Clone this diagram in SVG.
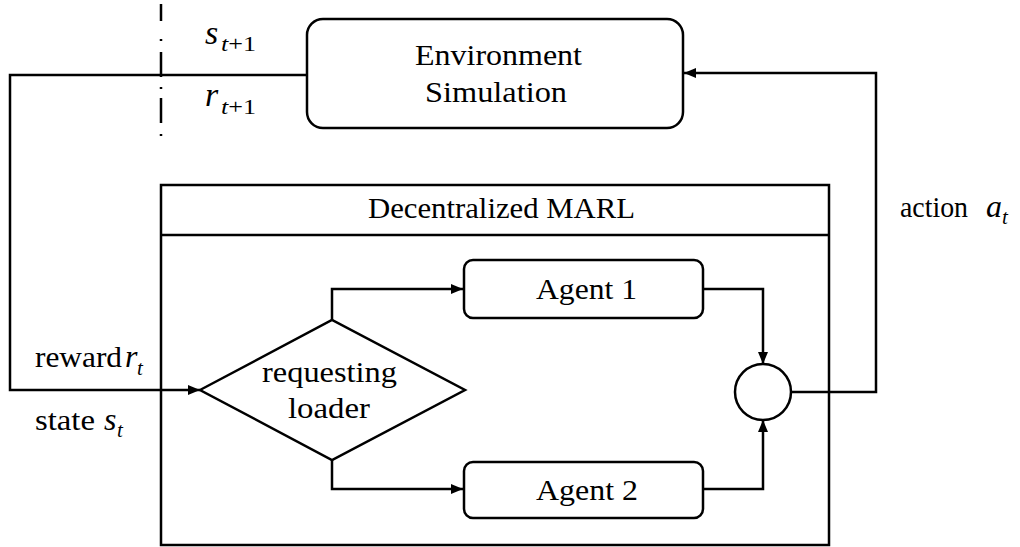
<svg xmlns="http://www.w3.org/2000/svg" width="1020" height="547" viewBox="0 0 1020 547">
<style>
.ln{fill:none;stroke:#000;stroke-width:2.5}
.bx{fill:#fff;stroke:#000;stroke-width:2.5}
.t{font-family:"Liberation Serif","DejaVu Serif",serif;font-size:30px;fill:#000}
.m{font-family:"Liberation Serif","DejaVu Serif",serif;font-style:italic;font-size:32px;fill:#000}
.s{font-family:"Liberation Serif","DejaVu Serif",serif;font-size:21px;fill:#000}
.i{font-style:italic}
</style>
<defs>
<marker id="ah" markerUnits="userSpaceOnUse" markerWidth="12" markerHeight="10" refX="12" refY="5" orient="auto">
<path d="M0,0 L12,5 L0,10 z" fill="#000"/>
</marker>
</defs>
<rect width="1020" height="547" fill="#fff"/>
<g id="separator">
<path class="ln" d="M161,4 V21 M161,39 V41 M161,52 V77 M161,87 V89 M161,98 V123 M161,134 V136"/>
</g>
<g id="env">
<rect class="bx" x="307" y="19" width="376" height="109" rx="16"/>
<text class="t" x="415" y="65" textLength="167" lengthAdjust="spacingAndGlyphs">Environment</text>
<text class="t" x="425" y="102" textLength="142" lengthAdjust="spacingAndGlyphs">Simulation</text>
</g>
<g id="marl">
<rect class="bx" x="161" y="185" width="668" height="360"/>
<line class="ln" x1="161" y1="235" x2="829" y2="235"/>
<text class="t" x="368" y="218" textLength="267" lengthAdjust="spacingAndGlyphs">Decentralized MARL</text>
</g>
<g id="loader">
<path class="bx" d="M200,390 L332,320 L465,390 L332,460 Z"/>
<text class="t" x="262" y="382" textLength="135" lengthAdjust="spacingAndGlyphs">requesting</text>
<text class="t" x="288" y="418" textLength="82" lengthAdjust="spacingAndGlyphs">loader</text>
</g>
<g id="agent1">
<rect class="bx" x="464" y="260" width="239" height="58" rx="9"/>
<text class="t" x="536" y="299" textLength="101" lengthAdjust="spacingAndGlyphs">Agent 1</text>
</g>
<g id="agent2">
<rect class="bx" x="464" y="462" width="239" height="56" rx="9"/>
<text class="t" x="536" y="500" textLength="102" lengthAdjust="spacingAndGlyphs">Agent 2</text>
</g>
<g id="combiner">
<circle class="bx" cx="763" cy="392" r="28"/>
</g>
<g id="connectors">
<path class="ln" d="M307,75 H10 V390 H200" marker-end="url(#ah)"/>
<path class="ln" d="M332,320 V289 H463" marker-end="url(#ah)"/>
<path class="ln" d="M332,460 V489 H463" marker-end="url(#ah)"/>
<path class="ln" d="M703,289 H763 V364" marker-end="url(#ah)"/>
<path class="ln" d="M703,489 H763 V420" marker-end="url(#ah)"/>
<path class="ln" d="M791,392 H876 V73 H684" marker-end="url(#ah)"/>
</g>
<g id="labels">
<text class="m" x="205" y="44" style="font-size:34px">s</text>
<text class="s" x="221" y="51" textLength="35" lengthAdjust="spacingAndGlyphs"><tspan class="i">t</tspan>+1</text>
<text class="m" x="205" y="106" style="font-size:34px">r</text>
<text class="s" x="221" y="114" textLength="35" lengthAdjust="spacingAndGlyphs"><tspan class="i">t</tspan>+1</text>
<text class="t" x="35" y="367" textLength="87" lengthAdjust="spacingAndGlyphs">reward</text>
<text class="m" x="125" y="367">r</text>
<text class="s i" x="137" y="375">t</text>
<text class="t" x="35" y="430" textLength="60" lengthAdjust="spacingAndGlyphs">state</text>
<text class="m" x="104" y="430">s</text>
<text class="s i" x="117" y="437">t</text>
<text class="t" x="900" y="217" textLength="68" lengthAdjust="spacingAndGlyphs">action</text>
<text class="m" x="986" y="217">a</text>
<text class="s i" x="1002" y="224">t</text>
</g>
</svg>
